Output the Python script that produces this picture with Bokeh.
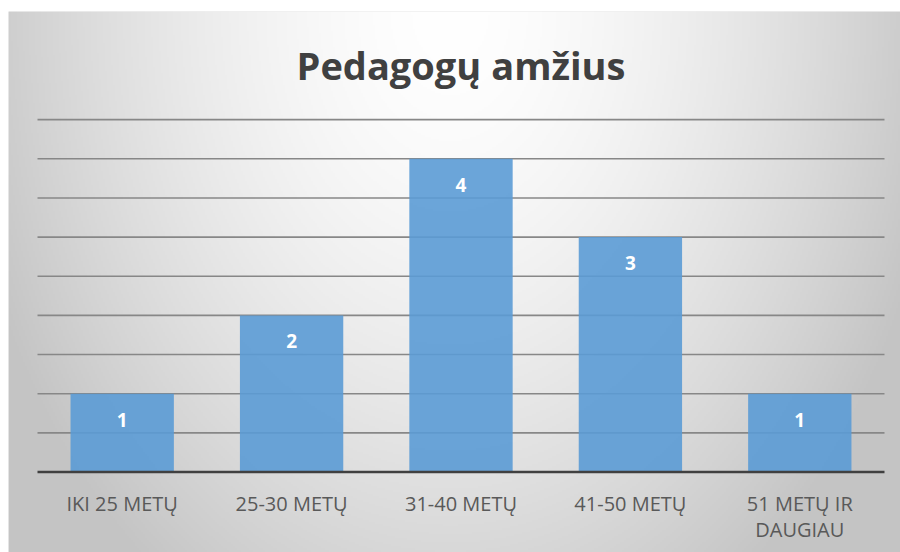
import numpy as np
from bokeh.plotting import figure
from bokeh.models import Range1d
from bokeh.core.properties import value
from bokeh.embed import file_html
from bokeh.resources import INLINE

# ---- data ----
title_text = "Pedagogų amžius"
categories = ["IKI 25 METŲ", "25-30 METŲ", "31-40 METŲ", "41-50 METŲ", "51 METŲ IR\nDAUGIAU"]
counts = [1, 2, 4, 3, 1]
grid_ticks = [0.5, 1.0, 1.5, 2.0, 2.5, 3.0, 3.5, 4.0, 4.5]

# ---- layout (page pixels) ----
W, H = 900, 552
LEFT, TOP = 8, 11
frame_w = W - LEFT
frame_h = H - TOP
plot_left_px = 37 - LEFT
plot_right_px = 884 - LEFT
zero_px = 471.5 - TOP
unit_px = 78.3
n = len(categories)
cat_px = (plot_right_px - plot_left_px) / n
x_start = -plot_left_px / cat_px
x_end = (frame_w - plot_left_px) / cat_px
y_end = zero_px / unit_px
y_start = -(frame_h - zero_px) / unit_px

p = figure(width=W, height=H,
           x_range=Range1d(x_start, x_end), y_range=Range1d(y_start, y_end),
           x_axis_type=None, y_axis_type=None,
           toolbar_location=None, output_backend="svg",
           min_border_left=LEFT, min_border_right=0, min_border_bottom=0, min_border_top=TOP,
           border_fill_color="white", outline_line_color=None,
           background_fill_color="#e0e0e0")

# radial gradient background
gh, gw = frame_h // 2, frame_w // 2
ys = (np.arange(gh) + 0.5) * frame_h / gh
page_y = TOP + frame_h - ys
xs = (np.arange(gw) + 0.5) * frame_w / gw + LEFT
dx = (xs[None, :] - 450) / 500
dy = (page_y[:, None] - 11) / 700
t = np.sqrt(dx ** 2 + dy ** 2)
v = np.clip(255 - 59 * t ** 1.6, 196, 255).astype(np.uint32)
img = (np.uint32(255) << 24) | (v << 16) | (v << 8) | v
p.image_rgba(image=[img], x=x_start, y=y_start, dw=x_end - x_start, dh=y_end - y_start)

# grid lines
p.segment(x0=[0] * len(grid_ticks), x1=[n] * len(grid_ticks), y0=grid_ticks, y1=grid_ticks,
          line_color="#878787", line_width=1.6)

xc = [i + 0.5 for i in range(n)]

# bars
p.vbar(x=xc, top=counts, bottom=0, width=0.61, fill_color="#5b9bd5", fill_alpha=0.9,
       line_color=None)

# baseline axis
p.segment(x0=[0], x1=[n], y0=[0], y1=[0], line_color="#404040", line_width=2.7)

# data labels
p.text(x=xc, y=counts, text=[str(c) for c in counts], text_color="white",
       text_font=value("Open Sans"), text_font_style="bold", text_font_size="19px",
       text_align="center", text_baseline="middle", y_offset=26)

# category labels
p.text(x=xc, y=[0] * n, text=categories, text_color="#595959",
       text_font=value("Open Sans"), text_font_size="20px",
       text_align="center", text_baseline="top", y_offset=18, text_line_height=0.95)

# title
p.text(x=[n / 2], y=[(zero_px - 53) / unit_px], text=[title_text], text_color="#404040",
       text_font=value("Open Sans"), text_font_style="bold", text_font_size="38px",
       text_align="center", text_baseline="middle")

open("out.html", "w").write(file_html(p, INLINE))
